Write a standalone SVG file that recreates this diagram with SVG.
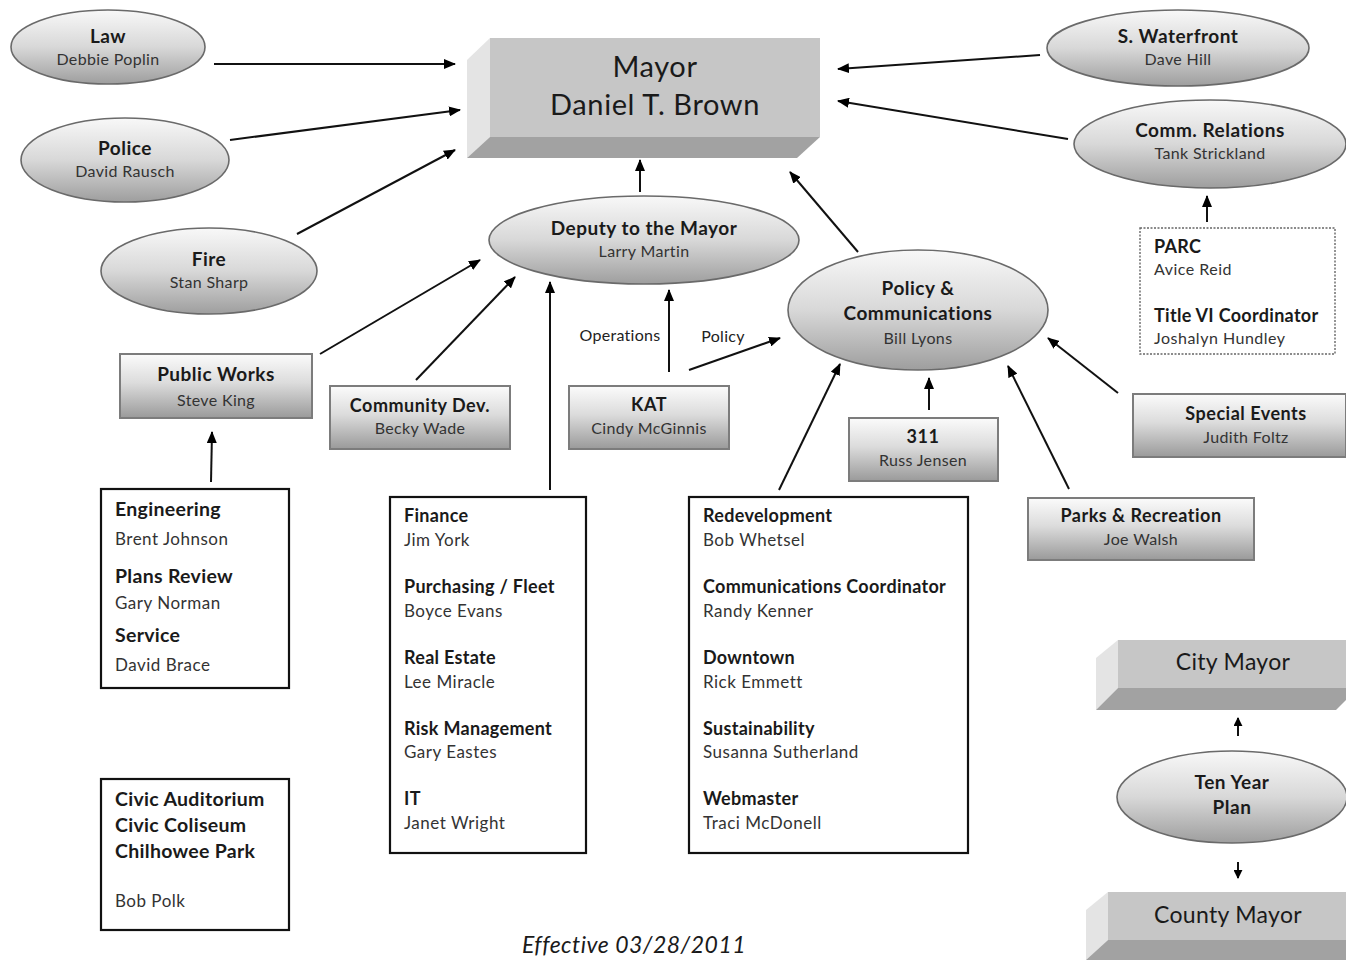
<svg xmlns="http://www.w3.org/2000/svg" width="1346" height="960" viewBox="0 0 1346 960">
<defs>
<linearGradient id="gEll" x1="0" y1="0" x2="0" y2="1">
<stop offset="0" stop-color="#f8f8f8"/>
<stop offset="0.5" stop-color="#d8d8d8"/>
<stop offset="1" stop-color="#9e9e9e"/>
</linearGradient>
<linearGradient id="gRect" x1="0" y1="0" x2="0" y2="1">
<stop offset="0" stop-color="#fbfbfb"/>
<stop offset="0.45" stop-color="#dcdcdc"/>
<stop offset="1" stop-color="#9a9a9a"/>
</linearGradient>
<marker id="arr" viewBox="0 0 12 10" refX="11" refY="5" markerWidth="12" markerHeight="10" markerUnits="userSpaceOnUse" orient="auto">
<path d="M0,0 L12,5 L0,10 Z" fill="#000"/>
</marker>
<marker id="arrS" viewBox="0 0 10 10" refX="9" refY="5" markerWidth="9" markerHeight="9" markerUnits="userSpaceOnUse" orient="auto">
<path d="M0,0 L10,5 L0,10 Z" fill="#000"/>
</marker>
</defs>
<style>
text{font-family:Lato,"Open Sans","Liberation Sans",sans-serif;fill:#1a1a1a}
.t{font-weight:bold;font-size:19px;letter-spacing:0.5px;text-anchor:middle}
.s{font-size:16px;letter-spacing:0.35px;text-anchor:middle;fill:#333}
.bl{font-weight:bold;font-size:18px;letter-spacing:0.3px}
.bb{font-weight:bold;font-size:19.5px;letter-spacing:0.3px}
.nl{font-size:17px;letter-spacing:0.5px;fill:#333}
.ell{fill:url(#gEll);stroke:#6a6a6a;stroke-width:1.6}
.rb{fill:url(#gRect);stroke:#7c7c7c;stroke-width:2}
.box{fill:#fff;stroke:#111;stroke-width:2.2}
.front{fill:#c6c6c6}
.side{fill:#e4e4e4}
.bot{fill:#a2a2a2}
.c line{stroke:#111;stroke-width:2;marker-end:url(#arr)}
.lbl{font-size:16px;letter-spacing:0.3px;fill:#222;text-anchor:middle}
.big{font-size:23px;letter-spacing:0.3px;text-anchor:middle}
</style>
<rect width="1346" height="960" fill="#fff"/>

<g id="mayor">
<polygon class="side" points="467,60 490,38 490,137 467,158"/>
<polygon class="bot" points="490,137 820,137 797,158 467,158"/>
<rect class="front" x="490" y="38" width="330" height="99"/>
<text x="655" y="77" style="font-size:29px;letter-spacing:0.6px;text-anchor:middle">Mayor</text>
<text x="655" y="115" style="font-size:29px;letter-spacing:0.6px;text-anchor:middle">Daniel T. Brown</text>
</g>

<g id="law">
<ellipse class="ell" cx="108" cy="47" rx="97" ry="37"/>
<text class="t" x="108" y="43">Law</text>
<text class="s" x="108" y="65">Debbie Poplin</text>
</g>
<g id="police">
<ellipse class="ell" cx="125" cy="160" rx="104" ry="42"/>
<text class="t" x="125" y="155">Police</text>
<text class="s" x="125" y="177">David Rausch</text>
</g>
<g id="fire">
<ellipse class="ell" cx="209" cy="271" rx="108" ry="43"/>
<text class="t" x="209" y="266">Fire</text>
<text class="s" x="209" y="288">Stan Sharp</text>
</g>
<g id="deputy">
<ellipse class="ell" cx="644" cy="240" rx="155" ry="44"/>
<text class="t" x="644" y="235">Deputy to the Mayor</text>
<text class="s" x="644" y="257">Larry Martin</text>
</g>
<g id="policy">
<ellipse class="ell" cx="918" cy="310" rx="130" ry="60"/>
<text class="t" x="918" y="295">Policy &amp;</text>
<text class="t" x="918" y="320">Communications</text>
<text class="s" x="918" y="344">Bill Lyons</text>
</g>
<g id="waterfront">
<ellipse class="ell" cx="1178" cy="48" rx="131" ry="38"/>
<text class="t" x="1178" y="43">S. Waterfront</text>
<text class="s" x="1178" y="65">Dave Hill</text>
</g>
<g id="commrel">
<ellipse class="ell" cx="1210" cy="144" rx="136" ry="44"/>
<text class="t" x="1210" y="137">Comm. Relations</text>
<text class="s" x="1210" y="159">Tank Strickland</text>
</g>
<g id="parc">
<rect x="1140" y="228" width="195" height="126" fill="#fff" stroke="#666" stroke-width="1.4" stroke-dasharray="2,1.5"/>
<text class="bl" x="1154" y="253">PARC</text>
<text class="nl" x="1154" y="275" style="font-size:16px">Avice Reid</text>
<text class="bl" x="1154" y="322">Title VI Coordinator</text>
<text class="nl" x="1154" y="344" style="font-size:16px">Joshalyn Hundley</text>
</g>

<g id="publicworks">
<rect class="rb" x="120" y="354" width="192" height="64"/>
<text class="t" x="216" y="381">Public Works</text>
<text class="s" x="216" y="406">Steve King</text>
</g>
<g id="communitydev">
<rect class="rb" x="330" y="386" width="180" height="63"/>
<text class="t" x="420" y="412" style="font-size:18px">Community Dev.</text>
<text class="s" x="420" y="434">Becky Wade</text>
</g>
<g id="kat">
<rect class="rb" x="569" y="386" width="160" height="63"/>
<text class="t" x="649" y="411" style="font-size:18px">KAT</text>
<text class="s" x="649" y="434">Cindy McGinnis</text>
</g>
<g id="r311">
<rect class="rb" x="849" y="418" width="149" height="63"/>
<text class="t" x="923" y="443" style="font-size:18px">311</text>
<text class="s" x="923" y="466">Russ Jensen</text>
</g>
<g id="specialevents">
<rect class="rb" x="1133" y="394" width="213" height="63"/>
<text class="t" x="1246" y="420" style="font-size:18px">Special Events</text>
<text class="s" x="1246" y="443">Judith Foltz</text>
</g>
<g id="parks">
<rect class="rb" x="1028" y="498" width="226" height="62"/>
<text class="t" x="1141" y="522" style="font-size:18px">Parks &amp; Recreation</text>
<text class="s" x="1141" y="545">Joe Walsh</text>
</g>

<g id="engineering">
<rect class="box" x="101" y="489" width="188" height="199"/>
<text class="bb" x="115" y="516">Engineering</text>
<text class="nl" x="115" y="545">Brent Johnson</text>
<text class="bb" x="115" y="583">Plans Review</text>
<text class="nl" x="115" y="609">Gary Norman</text>
<text class="bb" x="115" y="642">Service</text>
<text class="nl" x="115" y="671">David Brace</text>
</g>
<g id="civic">
<rect class="box" x="101" y="779" width="188" height="151"/>
<text class="bb" x="115" y="806">Civic Auditorium</text>
<text class="bb" x="115" y="832">Civic Coliseum</text>
<text class="bb" x="115" y="858">Chilhowee Park</text>
<text class="nl" x="115" y="907">Bob Polk</text>
</g>
<g id="finance">
<rect class="box" x="390" y="497" width="196" height="356"/>
<text class="bl" x="404" y="522">Finance</text>
<text class="nl" x="404" y="546">Jim York</text>
<text class="bl" x="404" y="593">Purchasing / Fleet</text>
<text class="nl" x="404" y="617">Boyce Evans</text>
<text class="bl" x="404" y="664">Real Estate</text>
<text class="nl" x="404" y="688">Lee Miracle</text>
<text class="bl" x="404" y="735">Risk Management</text>
<text class="nl" x="404" y="758">Gary Eastes</text>
<text class="bl" x="404" y="805">IT</text>
<text class="nl" x="404" y="829">Janet Wright</text>
</g>
<g id="redevelopment">
<rect class="box" x="689" y="497" width="279" height="356"/>
<text class="bl" x="703" y="522">Redevelopment</text>
<text class="nl" x="703" y="546">Bob Whetsel</text>
<text class="bl" x="703" y="593">Communications Coordinator</text>
<text class="nl" x="703" y="617">Randy Kenner</text>
<text class="bl" x="703" y="664">Downtown</text>
<text class="nl" x="703" y="688">Rick Emmett</text>
<text class="bl" x="703" y="735">Sustainability</text>
<text class="nl" x="703" y="758">Susanna Sutherland</text>
<text class="bl" x="703" y="805">Webmaster</text>
<text class="nl" x="703" y="829">Traci McDonell</text>
</g>

<g id="citymayor">
<polygon class="side" points="1096,658 1118,640 1118,688 1096,710"/>
<polygon class="bot" points="1118,688 1346,688 1346,700 1336,710 1096,710"/>
<rect class="front" x="1118" y="640" width="228" height="48"/>
<text class="big" x="1233" y="670">City Mayor</text>
</g>
<g id="tenyear">
<ellipse class="ell" cx="1232" cy="797" rx="115" ry="46"/>
<text class="t" x="1232" y="789">Ten Year</text>
<text class="t" x="1232" y="814">Plan</text>
</g>
<g id="countymayor">
<polygon class="side" points="1086,910 1108,892 1108,940 1086,960"/>
<polygon class="bot" points="1108,940 1346,940 1346,960 1086,960"/>
<rect class="front" x="1108" y="892" width="238" height="48"/>
<text class="big" x="1228" y="923">County Mayor</text>
</g>

<g id="connectors" class="c">
<line x1="214" y1="64" x2="455" y2="64"/>
<line x1="230" y1="140" x2="460" y2="110"/>
<line x1="297" y1="234" x2="455" y2="150"/>
<line x1="1040" y1="55" x2="838" y2="69"/>
<line x1="1068" y1="139" x2="838" y2="101"/>
<line x1="640" y1="192" x2="640" y2="160"/>
<line x1="858" y1="252" x2="790" y2="172"/>
<line x1="320" y1="354" x2="480" y2="260"/>
<line x1="416" y1="380" x2="515" y2="277"/>
<line x1="550" y1="490" x2="550" y2="282"/>
<line x1="669" y1="372" x2="669" y2="290"/>
<line x1="689" y1="370" x2="780" y2="338"/>
<line x1="929" y1="410" x2="929" y2="378"/>
<line x1="779" y1="490" x2="840" y2="364"/>
<line x1="1069" y1="489" x2="1008" y2="366"/>
<line x1="1118" y1="393" x2="1048" y2="338"/>
<line x1="1207" y1="222" x2="1207" y2="196"/>
<line x1="211" y1="482" x2="212" y2="432"/>
<line x1="1238" y1="736" x2="1238" y2="718" style="marker-end:url(#arrS)"/>
<line x1="1238" y1="862" x2="1238" y2="878" style="marker-end:url(#arrS)"/>
</g>
<text class="lbl" x="620" y="341">Operations</text>
<text class="lbl" x="723" y="342">Policy</text>
<text x="634" y="953" style="font-size:23px;letter-spacing:0.5px;font-style:italic;text-anchor:middle">Effective 03/28/2011</text>
</svg>
